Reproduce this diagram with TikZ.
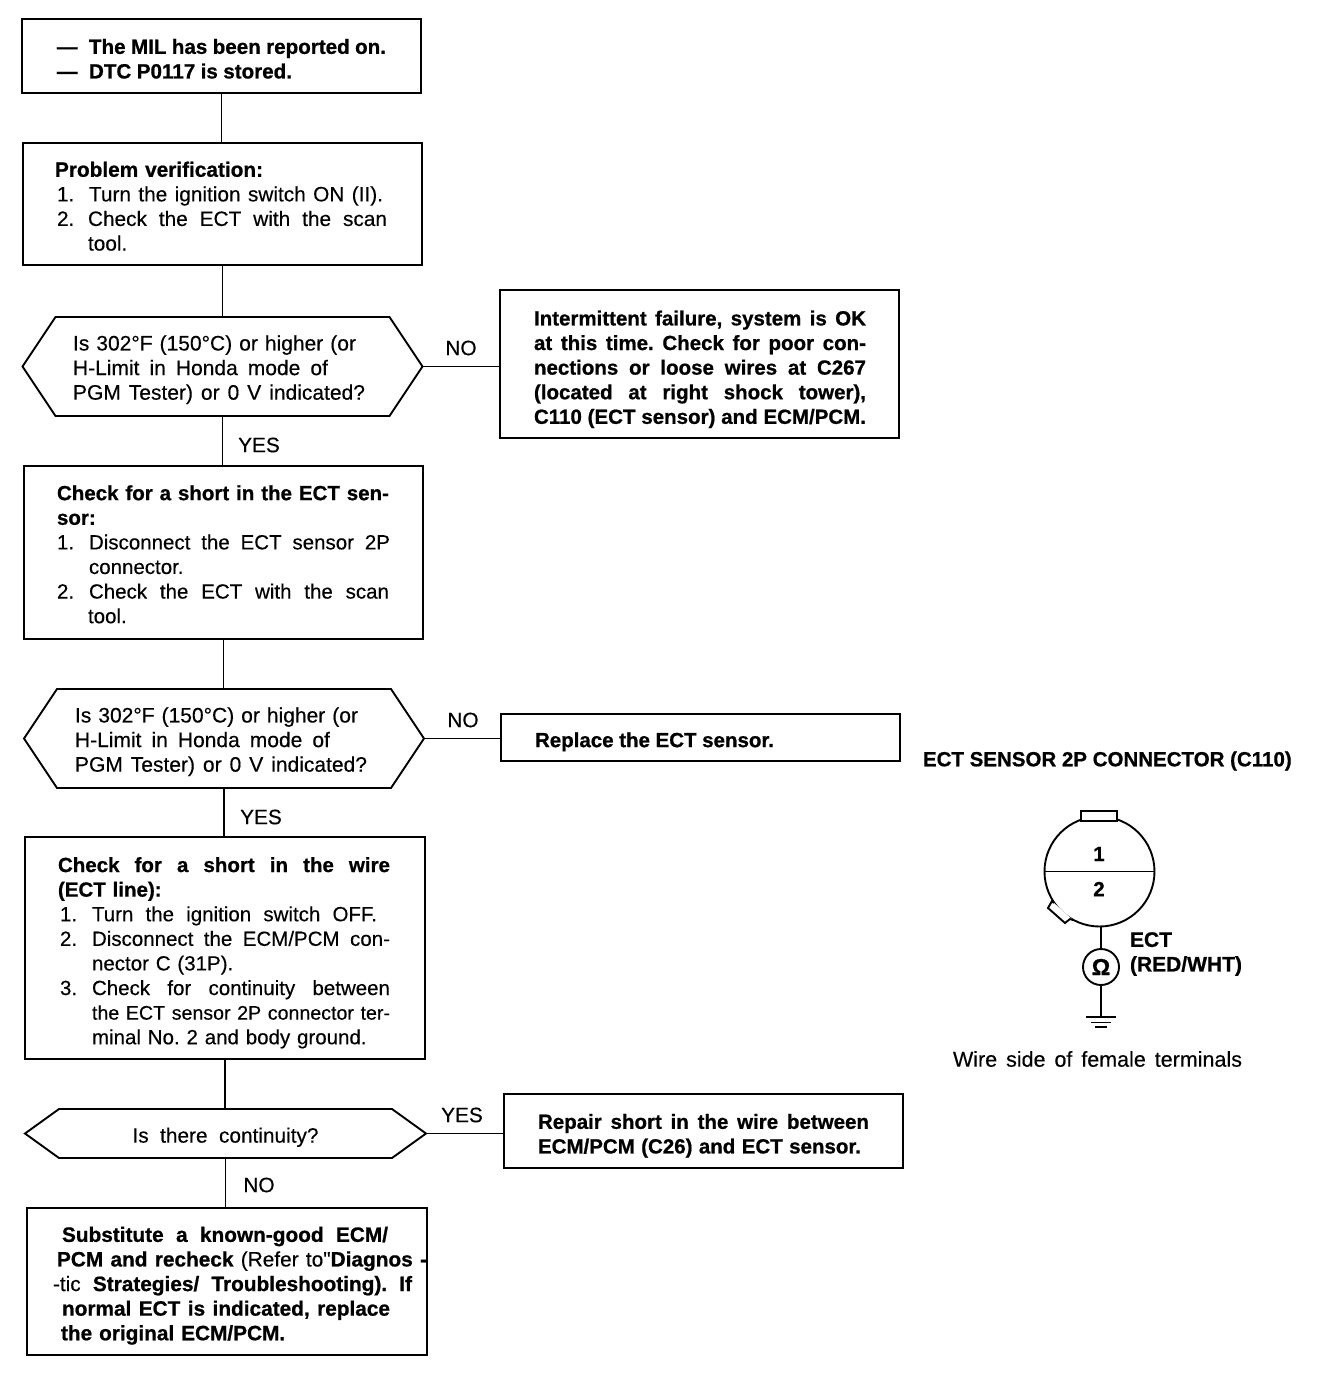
\documentclass[tikz,border=0pt]{standalone}
\usepackage{fontspec}
\setmainfont[Ligatures=TeXOff,FakeBold=0.3,BoldFeatures={FakeBold=0.8}]{Liberation Sans}
\usetikzlibrary{calc}
% one set line: offset from block left, set width, text with stretchable spaces
\newcommand{\Ln}[3]{\hspace*{#1pt}\makebox[#2pt][s]{\spaceskip=.278em plus 2em minus .13em\xspaceskip=\spaceskip #3}}
% one numbered line: offset, number width, number, set width, text
\newcommand{\Nu}[5]{\hspace*{#1pt}\makebox[#2pt][l]{#3}\makebox[#4pt][s]{\spaceskip=.278em plus 2em minus .13em\xspaceskip=\spaceskip #5}}
\newcommand{\Sk}[1]{\hspace*{#1pt}}
\tikzset{
  x=1pt,y=-1pt,
  every node/.style={inner sep=0pt,outer sep=0pt},
  txt/.style={font=\fontsize{20.8}{24.6}\selectfont},
  btxt/.style={font=\fontsize{20.5}{24.6}\selectfont\bfseries},
  dn/.style={execute at begin node={\leavevmode\rule{0pt}{\dimexpr15.5pt+#1pt\relax}}},
  box/.style={draw=black,line width=1.9pt,minimum width=#1,align=left,text width=335pt,
     font=\fontsize{20.8}{24.6}\selectfont},
  box/.default=399pt,
  hexlabel/.style={minimum width=400pt,align=left,text width=299pt,font=\fontsize{21}{24.6}\selectfont},
  link/.style={draw=black,line width=1.7pt},
  outline/.style={draw=black,line width=1.9pt,line join=miter},
}
\newcommand{\hexa}[2]{\draw[outline] (#1.west) -- ($(#1.north west)+(#2,0)$) -- ($(#1.north east)+(-#2,0)$) -- (#1.east) -- ($(#1.south east)+(-#2,0)$) -- ($(#1.south west)+(#2,0)$) -- cycle;}
\frenchspacing
\begin{document}
\begin{tikzpicture}
\path[use as bounding box,fill=white] (0,0) rectangle (1328,1374);

% process boxes
\node[box,text width=340pt,dn=5,minimum height=74pt,font=\fontsize{20.6}{24.6}\selectfont\bfseries] (b1) at (221.5,56) {\Nu{5.5}{32}{—}{297}{The MIL has been reported on.}\\\Nu{5.5}{32}{—}{203}{DTC P0117 is stored.}};
\node[box,dn=4,minimum height=122pt] (b2) at (222.5,204) {\textbf{Problem verification:}\\\Nu{2}{32}{1.}{294}{Turn the ignition switch ON (II).}\\\Nu{2}{31}{2.}{299}{Check the ECT with the scan}\\\Sk{33}tool.};
\node[box,dn=3,minimum height=173pt,font=\fontsize{20.5}{24.6}\selectfont] (b3) at (223.5,552.5) {\textbf{\Ln{1}{332}{Check for a short in the ECT sen-}}\\\Sk{1}\textbf{sor:}\\\Nu{1}{32}{1.}{301}{Disconnect the ECT sensor 2P}\\\Sk{33}connector.\\\Nu{1}{32}{2.}{300}{Check the ECT with the scan}\\\Sk{32}tool.};
\node[box=400pt,text width=340pt,dn=9,minimum height=222pt,font=\fontsize{20.5}{24.6}\selectfont] (b4) at (225,948) {\textbf{\Ln{3}{332}{Check for a short in the wire}}\\\Sk{3}\textbf{(ECT line):}\\\Nu{5}{32}{1.}{285}{Turn the ignition switch OFF.}\\\Nu{5}{32}{2.}{298}{Disconnect the ECM/PCM con-}\\\Sk{37}nector C (31P).\\\Nu{5}{32}{3.}{298}{Check for continuity between}\\\Ln{37}{298}{\fontsize{19.6}{24.6}\selectfont the ECT sensor 2P connector ter-}\\\Sk{37}minal No. 2 and body ground.};
\node[box=400pt,text width=372pt,dn=8,minimum height=147pt,font=\fontsize{20.8}{24.6}\selectfont\bfseries] (b5) at (227,1281.5) {\Ln{21}{326}{Substitute a known-good ECM/}\\\Ln{16}{370}{PCM and recheck {\mdseries(Refer to"}Diagnos -}\\\Ln{12}{359}{{\mdseries -tic} Strategies/ Troubleshooting). If}\\\Ln{21}{328}{normal ECT is indicated, replace}\\\Sk{20}the original ECM/PCM.};

% decision labels
\node[hexlabel,dn=6,minimum height=99pt] (d1) at (222.5,366.5) {\Ln{0}{283}{Is 302°F (150°C) or higher (or}\\\Ln{0}{255}{H-Limit in Honda mode of}\\\Ln{0}{292}{PGM Tester) or 0 V indicated?}};
\node[hexlabel,dn=6,minimum height=99pt,text width=298pt] (d2) at (224,738.5) {\Ln{0}{283}{Is 302°F (150°C) or higher (or}\\\Ln{0}{255}{H-Limit in Honda mode of}\\\Ln{0}{292}{PGM Tester) or 0 V indicated?}};
\node[minimum width=401pt,minimum height=49pt,txt,align=center,text width=300pt,dn=7] (d3) at (225.5,1133.5) {\makebox[186pt][s]{\spaceskip=.278em plus 2em minus .13em Is there continuity?}};
\hexa{d1}{33}
\hexa{d2}{33}
\hexa{d3}{34}

% result boxes
\node[box,dn=10,minimum height=148pt,font=\fontsize{20.5}{24.6}\selectfont\bfseries] (n1) at (699.5,364) {\Ln{2}{332}{Intermittent failure, system is OK}\\\Ln{2}{332}{at this time. Check for poor con-}\\\Ln{2}{332}{nections or loose wires at C267}\\\Ln{2}{332}{(located at right shock tower),}\\\Ln{2}{332}{C110 (ECT sensor) and ECM/PCM.}};
\node[box,dn=8,minimum height=47pt,font=\fontsize{20.5}{24.6}\selectfont\bfseries] (n2) at (700.5,737.5) {\Ln{2}{239}{Replace the ECT sensor.}};
\node[box,dn=9,minimum height=74pt,font=\fontsize{20.5}{24.6}\selectfont\bfseries] (n3) at (703.5,1131) {\Ln{2}{331}{Repair short in the wire between}\\\Ln{2}{323}{ECM/PCM (C26) and ECT sensor.}};

% connectors
\draw[link] (b1.south) -- (b1.south |- b2.north);
\draw[link] (b2.south) -- (b2.south |- d1.north);
\draw[link] (d1.south) -- (d1.south |- b3.north);
\draw[link] (b3.south) -- (b3.south |- d2.north);
\draw[link] (d2.south) -- (d2.south |- b4.north);
\draw[link] (b4.south) -- (b4.south |- d3.north);
\draw[link] (d3.south) -- (d3.south |- b5.north);
\draw[link] (d1.east) -- (d1.east -| n1.west);
\draw[link] (d2.east) -- (d2.east -| n2.west);
\draw[link] (d3.east) -- (d3.east -| n3.west);

% connector labels
\node[txt] (l1) at (461,348) {NO};
\node[txt] (l2) at (259,445) {YES};
\node[txt] (l3) at (463,720) {NO};
\node[txt] (l4) at (261,817) {YES};
\node[txt] (l5) at (462,1115) {YES};
\node[txt] (l6) at (259,1185) {NO};

% connector drawing
\node[btxt,anchor=west] (t1) at (923,761) {ECT SENSOR 2P CONNECTOR (C110)};
\node[circle,draw=black,line width=1.9pt,minimum size=110pt] (plug) at (1099.5,871.5) {};
\draw[line width=1.9pt,fill=white] (1054,903) -- (1052,901) -- (1048,908) -- (1065,923) -- (1070,919) -- (1073,920);
\draw[line width=1.9pt,fill=white] (1081,821) -- (1081,811) -- (1117,811) -- (1117,821) -- cycle;
\draw[line width=1.5pt] (plug.west) -- (plug.east);
\node[btxt] (p1) at (1099,854) {1};
\node[btxt] (p2) at (1099,889) {2};
\node[circle,draw=black,line width=1.9pt,minimum size=36pt,font=\fontsize{23}{24.6}\selectfont\bfseries] (meter) at (1101,967) {Ω};
\coordinate (gnd) at (1101,1017);
\draw[link] (1101,926) -- (meter.north);
\draw[link,line width=2pt] (meter.south) -- (gnd);
\draw[line width=1.9pt] ($(gnd)+(-15,0)$) -- ($(gnd)+(15,0)$);
\draw[line width=1.7pt] ($(gnd)+(-10,5.5)$) -- ($(gnd)+(10,5.5)$);
\draw[line width=1.5pt] ($(gnd)+(-6,10)$) -- ($(gnd)+(6,10)$);
\node[btxt,anchor=west,align=left,font=\fontsize{21}{24.6}\selectfont\bfseries] (t2) at (1130,954) {ECT\\(RED/WHT)};
\node[anchor=west,font=\fontsize{21.5}{24.6}\selectfont] (t3) at (953,1059) {\makebox[289pt][s]{\spaceskip=.278em plus 2em minus .13em Wire side of female terminals}};
\end{tikzpicture}
\end{document}
